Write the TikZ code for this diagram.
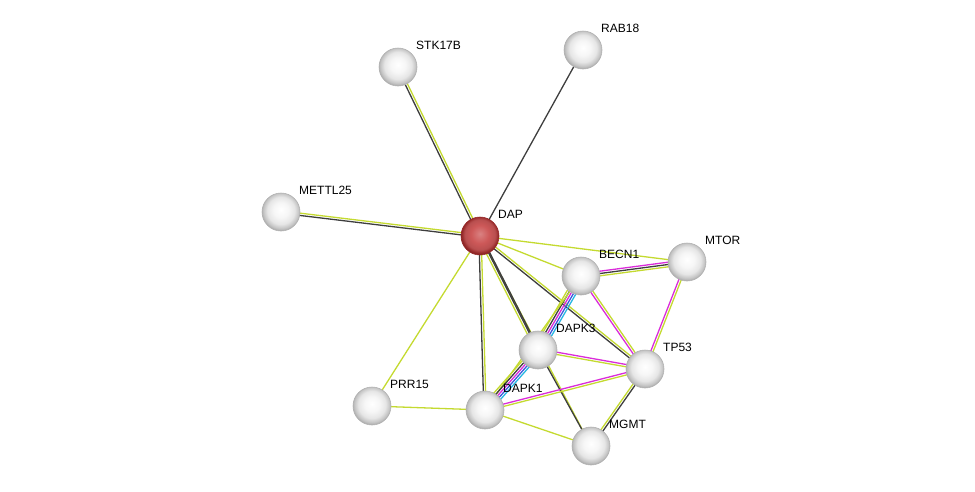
\documentclass[tikz,border=0pt]{standalone}
\usepackage{fontspec}
\setmainfont{Liberation Sans}
\usetikzlibrary{calc, backgrounds, positioning}
\definecolor{txtcol}{RGB}{196, 218, 48}
\definecolor{coexcol}{RGB}{62, 62, 62}
\definecolor{expcol}{RGB}{218, 44, 218}
\definecolor{dbcol}{RGB}{40, 182, 226}
\definecolor{cooccol}{RGB}{60, 90, 220}
\definecolor{dapred}{RGB}{205, 88, 88}
\definecolor{daprim}{RGB}{150, 40, 40}
\pgfdeclareradialshading{protball}{\pgfpoint{0bp}{3bp}}{color(0bp)=(white); color(10bp)=(gray!7); color(18bp)=(gray!20); color(23bp)=(gray!45); color(27bp)=(gray!72); color(50bp)=(gray!72)}
\pgfdeclareradialshading{seedball}{\pgfpoint{0bp}{3bp}}{color(0bp)=(dapred!75!white); color(12bp)=(dapred); color(20bp)=(dapred!90!black); color(24bp)=(daprim); color(27bp)=(daprim!80!black); color(50bp)=(daprim!80!black)}
\newcommand{\evid}[3]{%
  \foreach \c/\o in {#3}{%
    \draw[edge, \c] ($(#1)!\o*2.3pt!90:(#2)$) -- ($(#2)!\o*2.3pt!-90:(#1)$);}}

\begin{document}
\begin{tikzpicture}[
    x=1pt, y=-1pt,
    prot/.style={circle, minimum size=38pt, inner sep=0pt,
                 shade, shading=protball, draw=gray!60, line width=0.6pt},
    seed/.style={prot, shading=seedball, draw=daprim},
    lbl/.style={anchor=base west, inner sep=0pt, font=\fontsize{12}{14}\selectfont},
    edge/.style={line width=1.3pt}
]
    \useasboundingbox (0,0) rectangle (975,491);

    \node[seed] (dap) at (480,236) {};
    \node[prot] (stk) at (398,67) {};
    \node[prot] (rab) at (583,50) {};
    \node[prot] (mettl) at (281,212) {};
    \node[prot] (becn) at (581,276) {};
    \node[prot] (mtor) at (687,262) {};
    \node[prot] (dapkiii) at (538,350) {};
    \node[prot] (tp) at (645,369) {};
    \node[prot] (prr) at (372,406) {};
    \node[prot] (dapki) at (485,410) {};
    \node[prot] (mgmt) at (591,446) {};

    \node[lbl] (dap-l) at ([shift={(18,-18)}]dap.center) {DAP};
    \node[lbl] (stk-l) at ([shift={(18,-18)}]stk.center) {STK17B};
    \node[lbl] (rab-l) at ([shift={(18,-18)}]rab.center) {RAB18};
    \node[lbl] (mettl-l) at ([shift={(18,-18)}]mettl.center) {METTL25};
    \node[lbl] (becn-l) at ([shift={(18,-18)}]becn.center) {BECN1};
    \node[lbl] (mtor-l) at ([shift={(18,-18)}]mtor.center) {MTOR};
    \node[lbl] (dapkiii-l) at ([shift={(18,-18)}]dapkiii.center) {DAPK3};
    \node[lbl] (tp-l) at ([shift={(18,-18)}]tp.center) {TP53};
    \node[lbl] (prr-l) at ([shift={(18,-18)}]prr.center) {PRR15};
    \node[lbl] (dapki-l) at ([shift={(18,-18)}]dapki.center) {DAPK1};
    \node[lbl] (mgmt-l) at ([shift={(18,-18)}]mgmt.center) {MGMT};

    \begin{scope}[on background layer]
        \evid{dap}{stk}{txtcol/-0.5, coexcol/0.5}
        \evid{dap}{rab}{coexcol/0}
        \evid{dap}{mettl}{txtcol/-0.5, coexcol/0.5}
        \evid{dap}{mtor}{txtcol/0}
        \evid{dap}{becn}{txtcol/0}
        \evid{dap}{tp}{coexcol/-0.5, txtcol/0.5}
        \evid{dap}{mgmt}{txtcol/0}
        \evid{dap}{dapkiii}{txtcol/-1, coexcol/0, coexcol/0.5}
        \evid{dap}{dapki}{coexcol/-0.5, txtcol/0.5}
        \evid{dap}{prr}{txtcol/0}
        \evid{becn}{mtor}{txtcol/-1, coexcol/0, expcol/1}
        \evid{becn}{tp}{expcol/-0.5, txtcol/0.5}
        \evid{becn}{dapkiii}{txtcol/-2, coexcol/-1, expcol/0, cooccol/1, dbcol/2}
        \evid{becn}{dapki}{txtcol/0}
        \evid{mtor}{tp}{expcol/-0.5, txtcol/0.5}
        \evid{dapkiii}{tp}{txtcol/-0.5, expcol/0.5}
        \evid{dapkiii}{dapki}{txtcol/-2, coexcol/-1, expcol/0, cooccol/1, dbcol/2}
        \evid{dapkiii}{mgmt}{coexcol/0}
        \evid{dapki}{tp}{txtcol/-0.5, expcol/0.5}
        \evid{dapki}{mgmt}{txtcol/0}
        \evid{dapki}{prr}{txtcol/0}
        \evid{tp}{mgmt}{txtcol/-0.5, coexcol/0.5}
    \end{scope}
\end{tikzpicture}
\end{document}
